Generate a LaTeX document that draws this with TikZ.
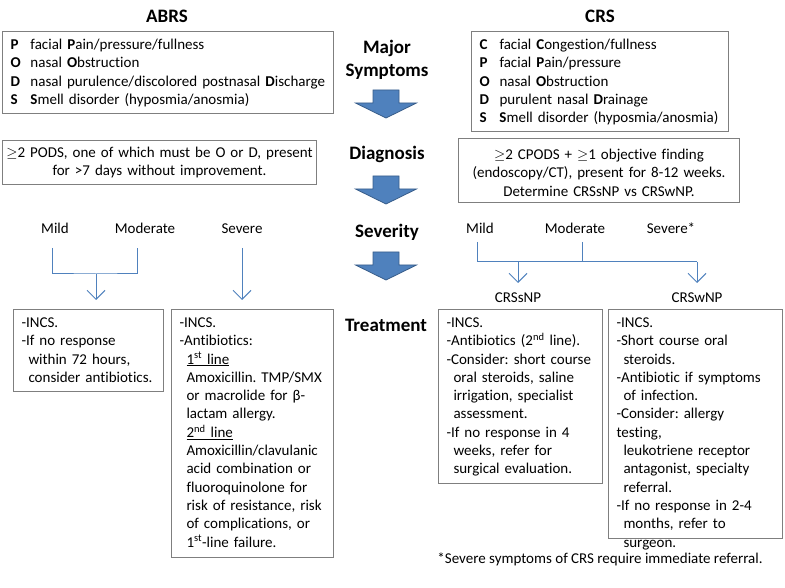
\documentclass[tikz,border=0pt]{standalone}
\usepackage{fontspec}
\setmainfont{Carlito}[Ligatures=NoCommon]
\usepackage{tikz}
\usetikzlibrary{arrows.meta, positioning, calc}

\definecolor{boxgray}{HTML}{7F7F7F}
\definecolor{flowblue}{HTML}{4F81BD}
\definecolor{arrowedge}{HTML}{385D8A}

\newcommand{\sym}[1]{\makebox[20pt][l]{\textbf{#1}}}
\newcommand{\ind}{\hspace*{7pt}}
\newcommand{\flowarrow}[1]{%
  \filldraw[bigarrow] (#1) ++(-13,0) -- ++(26,0) -- ++(0,13) -- ++(17.5,0)
    -- ++(-30.5,15) -- ++(-30.5,-15) -- ++(17.5,0) -- cycle;}

\frenchspacing

\begin{document}
\begin{tikzpicture}[x=1pt, y=-1pt, >={Straight Barb[length=9pt,width=18pt]},
	box/.style={draw=boxgray, line width=1pt, anchor=north west, align=left,
		inner xsep=8pt, inner ysep=0pt, font=\fontsize{15}{18.3}\selectfont},
	head/.style={anchor=base, align=center, font=\fontsize{19}{23.2}\selectfont\bfseries},
	plain/.style={anchor=base, font=\fontsize{15}{18.3}\selectfont},
	flow/.style={draw=flowblue, line width=1pt},
	bigarrow/.style={fill=flowblue, draw=arrowedge, line width=0.8pt}]

		\useasboundingbox (0,0) rectangle (785,588);

		% Columnas
		\node[head] (abrs) at (167,23) {ABRS};
		\node[head] (crs) at (600,23) {CRS};

		% Etapas
		\node[head] (major) at (387,77) {Major\\Symptoms};
		\node[head] (diag) at (387,160) {Diagnosis};
		\node[head] (sever) at (387,238) {Severity};
		\node[head] (treat) at (386,331) {Treatment};

		\coordinate (ar1) at (386,90);
		\coordinate (ar2) at (386,176);
		\coordinate (ar3) at (386,252);
		\flowarrow{ar1}
		\flowarrow{ar2}
		\flowarrow{ar3}

		% Sintomas
		\node[box, text width=315pt, text height=18pt, text depth=64pt] (abrssym) at (2,31)
			{\sym{P}facial \textbf{P}ain/pressure/fullness\\
			 \sym{O}nasal \textbf{O}bstruction\\
			 \sym{D}nasal purulence/discolored postnasal \textbf{D}ischarge\\
			 \sym{S}\textbf{S}mell disorder (hyposmia/anosmia)};

		\node[box, text width=241pt, text height=18pt, text depth=82pt] (crssym) at (471,31)
			{\sym{C}facial \textbf{C}ongestion/fullness\\
			 \sym{P}facial \textbf{P}ain/pressure\\
			 \sym{O}nasal \textbf{O}bstruction\\
			 \sym{D}purulent nasal \textbf{D}rainage\\
			 \sym{S}\textbf{S}mell disorder (hyposmia/anosmia)};

		% Diagnostico
		\node[box, align=center, inner xsep=2pt, text width=310pt, text height=17pt, text depth=27pt] (abrsdx) at (2,140)
			{$\geq$2 PODS, one of which must be O or D, present\\
			 for >7 days without improvement.};

		\node[box, align=center, inner xsep=2pt, text width=277pt, text height=21pt, text depth=43pt] (crsdx) at (458,138)
			{$\geq$2 CPODS + $\geq$1 objective finding\\
			 (endoscopy/CT), present for 8-12 weeks.\\
			 Determine CRSsNP vs CRSwNP.};

		% Gravedad
		\node[plain] (amild) at (55,234) {Mild};
		\node[plain] (amod) at (145,234) {Moderate};
		\node[plain] (asev) at (242,234) {Severe};

		\node[plain] (cmild) at (480,234) {Mild};
		\node[plain] (cmod) at (575,234) {Moderate};
		\node[plain] (csev) at (671,234) {Severe*};

		\node[plain] (snp) at (518,302) {CRSsNP};
		\node[plain] (wnp) at (697,302) {CRSwNP};

		% Tratamiento
		\node[box, text width=134pt, text height=18pt, text depth=64pt] (atx1) at (13,309)
			{-INCS.\\
			 -If no response\\
			 \ind within 72 hours,\\
			 \ind consider antibiotics.};

		\node[box, text width=146pt, text height=18pt, text depth=230pt] (atx2) at (171,309)
			{-INCS.\\
			 -Antibiotics:\\
			 \ind\underline{1\textsuperscript{st} line}\\
			 \ind Amoxicillin. TMP/SMX\\
			 \ind or macrolide for β-\\
			 \ind lactam allergy.\\
			 \ind\underline{2\textsuperscript{nd} line}\\
			 \ind Amoxicillin/clavulanic\\
			 \ind acid combination or\\
			 \ind fluoroquinolone for\\
			 \ind risk of resistance, risk\\
			 \ind of complications, or\\
			 \ind 1\textsuperscript{st}-line failure.};

		\node[box, text width=148pt, text height=18pt, text depth=156pt] (ctx1) at (438,309)
			{-INCS.\\
			 -Antibiotics (2\textsuperscript{nd} line).\\
			 -Consider: short course\\
			 \ind oral steroids, saline\\
			 \ind irrigation, specialist\\
			 \ind assessment.\\
			 -If no response in 4\\
			 \ind weeks, refer for\\
			 \ind surgical evaluation.};

		\node[box, text width=158pt, text height=18pt, text depth=211pt] (ctx2) at (608,309)
			{-INCS.\\
			 -Short course oral\\
			 \ind steroids.\\
			 -Antibiotic if symptoms\\
			 \ind of infection.\\
			 -Consider: allergy\\
			 testing,\\
			 \ind leukotriene receptor\\
			 \ind antagonist, specialty\\
			 \ind referral.\\
			 -If no response in 2-4\\
			 \ind months, refer to\\
			 \ind surgeon.};

		\node[plain] (note) at (600,563) {*Severe symptoms of CRS require immediate referral.};

		% Flechas
		\coordinate (ajoin) at (96,274);
		\draw[flow] ([shift={(-3pt,-14pt)}]amild.base) |- (ajoin) -| ([shift={(-8pt,-14pt)}]amod.base);
		\draw[flow, ->, shorten >=9pt] (ajoin) -- (ajoin |- atx1.north);
		\draw[flow, ->, shorten >=9pt] ([yshift=-14pt]asev.base) -- (asev.base |- atx2.north);

		\coordinate (cjoin) at (697,262);
		\draw[flow] ([shift={(-3pt,-8pt)}]cmild.base) |- (cjoin);
		\draw[flow] ([shift={(7pt,-8pt)}]cmod.base) coordinate (cm) -- (cm |- cjoin);
		\draw[flow, ->] (snp.base |- cjoin) -- ([yshift=19pt]snp.base);
		\draw[flow, ->] (cjoin) -- ([yshift=19pt]wnp.base);
	\end{tikzpicture}
\end{document}
